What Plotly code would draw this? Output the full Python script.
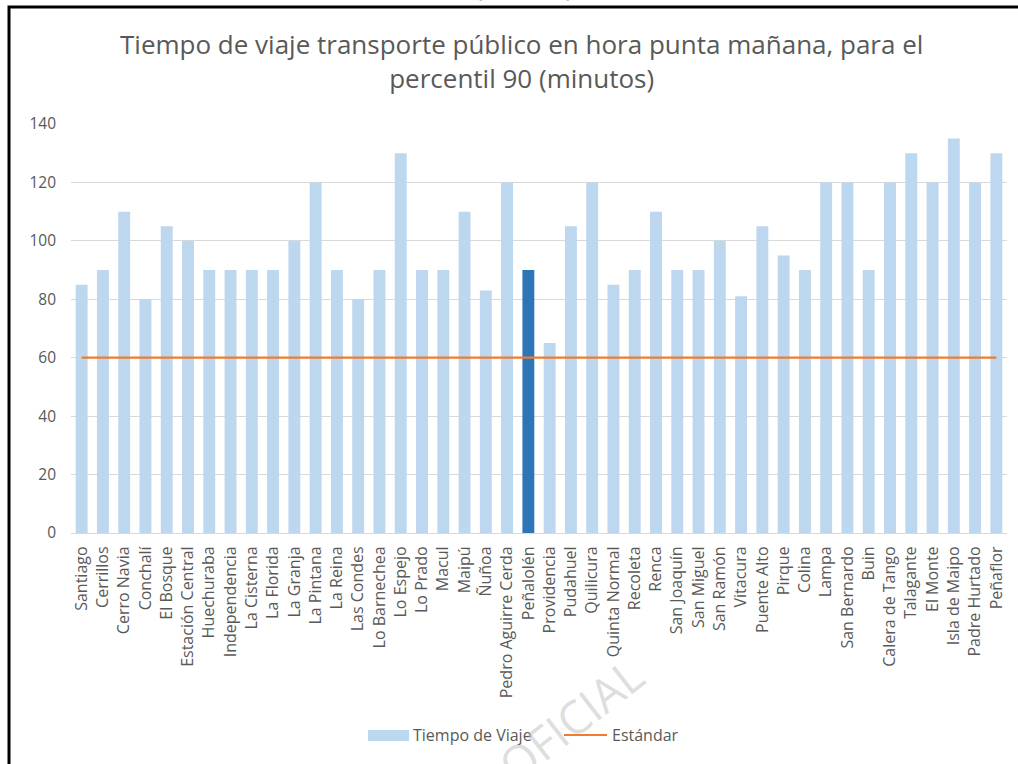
import plotly.graph_objects as go

# Comunas (order as plotted)
comunas = [
    "Santiago", "Cerrillos", "Cerro Navia", "Conchalí", "El Bosque",
    "Estación Central", "Huechuraba", "Independencia", "La Cisterna",
    "La Florida", "La Granja", "La Pintana", "La Reina", "Las Condes",
    "Lo Barnechea", "Lo Espejo", "Lo Prado", "Macul", "Maipú", "Ñuñoa",
    "Pedro Aguirre Cerda", "Peñalolén", "Providencia", "Pudahuel",
    "Quilicura", "Quinta Normal", "Recoleta", "Renca", "San Joaquín",
    "San Miguel", "San Ramón", "Vitacura", "Puente Alto", "Pirque",
    "Colina", "Lampa", "San Bernardo", "Buin", "Calera de Tango",
    "Talagante", "El Monte", "Isla de Maipo", "Padre Hurtado", "Peñaflor",
]

# Travel time, 90th percentile (minutes)
tiempo_viaje = [
    85, 90, 110, 80, 105, 100, 90, 90, 90, 90, 100, 120, 90, 80, 90, 130,
    90, 90, 110, 83, 120, 90, 65, 105, 120, 85, 90, 110, 90, 90, 100, 81,
    105, 95, 90, 120, 120, 90, 120, 130, 120, 135, 120, 130,
]

# Reference standard (minutes)
estandar = [60] * len(comunas)

destacada = "Peñalolén"
serie_barras = "Tiempo de Viaje"
serie_linea = "Estándar"

y_ticks = [0, 20, 40, 60, 80, 100, 120, 140]

LIGHT_BLUE = "#BDD7EE"
DARK_BLUE = "#2E75B6"
ORANGE = "#ED7D31"
TEXT = "#595959"
GRID = "#D9D9D9"
FONT = "Open Sans"

bar_colors = [DARK_BLUE if c == destacada else LIGHT_BLUE for c in comunas]

fig = go.Figure()
fig.add_trace(go.Bar(
    x=comunas, y=tiempo_viaje, name=serie_barras,
    marker=dict(color=bar_colors, line=dict(width=0)),
))
fig.add_trace(go.Scatter(
    x=comunas, y=estandar, name=serie_linea, mode="lines",
    line=dict(color=ORANGE, width=2.2),
))

W, H = 1018, 764
L, R, T, B = 71, 11, 124, 231
pw, ph = W - L - R, H - T - B


def px(x):
    return (x - L) / pw


def py(y):
    return (H - B - y) / ph


fig.update_layout(
    width=W, height=H,
    margin=dict(l=L, r=R, t=T, b=B),
    paper_bgcolor="white", plot_bgcolor="white",
    font=dict(family=FONT, color=TEXT, size=15),
    bargap=0.44,
    showlegend=False,
    xaxis=dict(
        tickangle=-90, showgrid=False, showline=True, linecolor=GRID,
        linewidth=1, ticks="", tickfont=dict(size=16, color=TEXT),
        ticklabelstandoff=6,
    ),
    yaxis=dict(
        range=[0, 140], tickvals=y_ticks, showgrid=True, gridcolor=GRID,
        gridwidth=1.2, zeroline=False, showline=False, ticks="",
        tickfont=dict(size=15.5, color=TEXT), ticklabelstandoff=14,
    ),
)

# Legend: bar swatch + label, line swatch + label
fig.add_shape(
    type="rect", xref="paper", yref="paper",
    x0=px(368), x1=px(409), y0=py(741), y1=py(730),
    fillcolor=LIGHT_BLUE, line=dict(width=0),
)
fig.add_annotation(
    text=serie_barras, xref="paper", yref="paper", x=px(411), y=py(735),
    xanchor="left", yanchor="middle", showarrow=False,
    font=dict(size=16, color=TEXT, family=FONT),
)
fig.add_shape(
    type="line", xref="paper", yref="paper",
    x0=px(564), x1=px(607), y0=py(735), y1=py(735),
    line=dict(color=ORANGE, width=2.2),
)
fig.add_annotation(
    text=serie_linea, xref="paper", yref="paper", x=px(610), y=py(735),
    xanchor="left", yanchor="middle", showarrow=False,
    font=dict(size=16, color=TEXT, family=FONT),
)

# Chart title
fig.add_annotation(
    text="Tiempo de viaje transporte público en hora punta mañana, para el<br>percentil 90 (minutos)",
    xref="paper", yref="paper", x=px(521), y=py(61), xanchor="center",
    yanchor="middle", showarrow=False,
    font=dict(size=26, color=TEXT, family=FONT),
)

# Caption above the frame, mostly off the page
fig.add_annotation(
    text="<b>(minutos)</b>", xref="paper", yref="paper",
    x=px(524), y=py(5), xanchor="center", yanchor="bottom",
    showarrow=False, font=dict(size=20, color="black", family=FONT),
)

# Frame around the chart
fig.add_shape(
    type="rect", xref="paper", yref="paper",
    x0=px(9), x1=px(1040), y0=py(800), y1=py(7),
    line=dict(color="black", width=3), fillcolor="rgba(0,0,0,0)",
)

# Watermark
fig.add_annotation(
    text="OFICIAL", xref="paper", yref="paper",
    x=px(570), y=py(720), xanchor="center", yanchor="middle",
    textangle=-38, showarrow=False,
    font=dict(size=46, color="rgba(190,190,190,0.5)", family=FONT),
)

fig.write_html("out.html")
